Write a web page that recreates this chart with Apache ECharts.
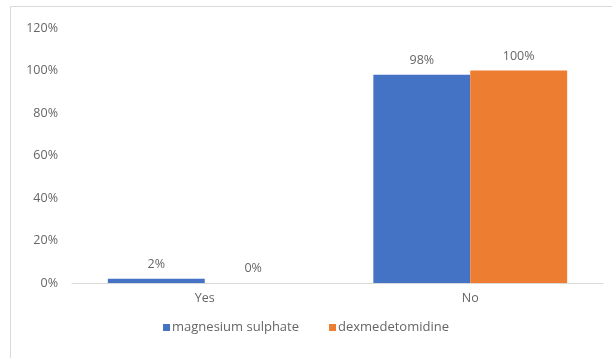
<!DOCTYPE html>
<html>
<head>
<meta charset="utf-8">
<script src="https://cdn.jsdelivr.net/npm/echarts@6/dist/echarts.min.js"></script>
<style>
  html, body { margin: 0; padding: 0; background: #fff; }
  #chart { width: 612px; height: 358px; }
</style>
</head>
<body>
<div id="chart"></div>
<script>
// Categories and percentages per group
const categories = ['Yes', 'No'];
const magnesiumSulphate = [2, 98];
const dexmedetomidine = [0, 100];
const seriesNames = ['magnesium sulphate', 'dexmedetomidine'];

const FONT = '"Open Sans", "Noto Sans", sans-serif';
const TEXT = '#666666';
const SIZE = 12.5;

const chart = echarts.init(document.getElementById('chart'), null, { renderer: 'canvas' });

function barSeries(name, data, color) {
  return {
    name: name,
    type: 'bar',
    data: data,
    barGap: '0%',
    barCategoryGap: '27%',
    itemStyle: { color: color },
    label: {
      show: true,
      position: 'top',
      distance: 8,
      formatter: p => p.value + '%',
      color: TEXT,
      fontFamily: FONT,
      fontSize: SIZE
    }
  };
}

chart.setOption({
  animation: false,
  backgroundColor: '#fff',
  textStyle: { fontFamily: FONT },
  graphic: [{
    type: 'rect',
    shape: { x: 10.5, y: 6.5, width: 620, height: 370 },
    style: { fill: 'none', stroke: '#d9d9d9', lineWidth: 1 },
    silent: true,
    z: -1
  }],
  grid: { left: 72, right: 9, top: 28, bottom: 75, containLabel: false },
  legend: {
    data: seriesNames,
    bottom: 19,
    left: 'center',
    itemWidth: 7,
    itemHeight: 7,
    itemGap: 30,
    icon: 'rect',
    textStyle: { color: TEXT, fontFamily: FONT, fontSize: 13, padding: [0, 0, 0, -3] }
  },
  xAxis: {
    type: 'category',
    data: categories,
    axisLine: { lineStyle: { color: '#d9d9d9', width: 1 } },
    axisTick: { show: false },
    axisLabel: { color: TEXT, fontFamily: FONT, fontSize: SIZE, margin: 9 }
  },
  yAxis: {
    type: 'value',
    min: 0,
    max: 120,
    interval: 20,
    axisLine: { show: false },
    axisTick: { show: false },
    splitLine: { show: false },
    axisLabel: { color: TEXT, fontFamily: FONT, fontSize: SIZE, margin: 14, formatter: v => v + '%' }
  },
  series: [
    barSeries(seriesNames[0], magnesiumSulphate, '#4472c4'),
    barSeries(seriesNames[1], dexmedetomidine, '#ed7d31')
  ]
});
</script>
</body>
</html>
